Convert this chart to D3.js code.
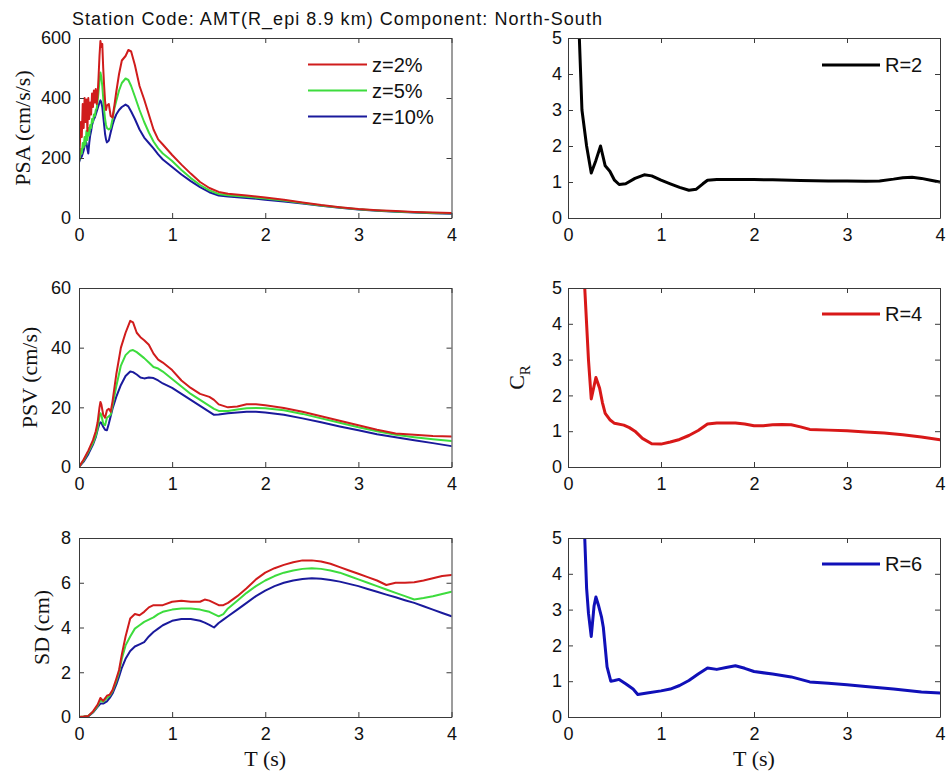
<!DOCTYPE html>
<html>
<head>
<meta charset="utf-8">
<script src="https://cdn.jsdelivr.net/npm/d3@7"></script>
<style>
  html, body { margin: 0; padding: 0; background: #fff; }
  svg { display: block; }
</style>
</head>
<body>
<svg id="chart" width="946" height="776"></svg>
<script>
// ---------------- DATA ----------------
const titleText = "Station Code: AMT(R_epi 8.9 km) Component: North-South";
const xTicks = [0, 1, 2, 3, 4];
const psaTicks = [0, 200, 400, 600];
const psvTicks = [0, 20, 40, 60];
const sdTicks = [0, 2, 4, 6, 8];
const crTicks = [0, 1, 2, 3, 4, 5];
const dampingLabels = ["z=2%", "z=5%", "z=10%"];
const rLabels = ["R=2", "R=4", "R=6"];

// PSA (cm/s/s)
const psaT = [0,0.01,0.02,0.03,0.04,0.05,0.06,0.07,0.08,0.09,0.10,0.11,0.12,0.13,0.14,0.15,0.16,0.17,0.18,0.19,0.20,0.21,0.22,0.23,0.24,0.25,0.26,0.27,0.28,0.29,0.30,
  0.32,0.34,0.36,0.38,0.40,0.43,0.46,0.50,0.53,0.56,0.60,0.65,0.70,0.75,0.80,0.85,0.90,1.0,1.1,1.2,1.3,1.4,1.5,1.6,1.8,2.0,2.2,2.4,2.6,2.8,3.0,3.2,3.4,3.6,3.8,4.0];
const psaZ2 = [190,250,320,270,380,300,400,320,395,290,400,330,385,345,415,370,425,385,430,380,410,470,540,590,570,580,500,440,390,360,375,
  380,340,335,375,420,480,525,540,560,555,510,440,395,345,295,262,245,210,178,148,120,100,87,81,75,68,61,52,43,36,30,26,23,20,18,17];
const psaZ5 = [190,200,230,215,250,235,270,245,290,260,300,275,310,300,330,320,345,340,360,365,390,420,455,485,470,440,400,360,330,310,300,
  295,300,330,365,390,425,450,465,460,440,405,360,320,285,255,232,215,190,160,133,110,92,80,76,71,65,58,50,42,35,29,25,22,19,17,16];
const psaZ10 = [185,195,200,205,215,225,240,255,250,230,215,250,275,290,310,320,330,335,345,355,365,375,385,392,385,370,340,310,280,262,252,
  258,285,310,330,345,360,370,378,372,355,330,295,268,250,232,212,195,170,145,123,103,86,75,72,67,61,55,48,41,34,28,24,21,18,16,14];

// PSV (cm/s)
const psvT = [0,0.05,0.1,0.15,0.18,0.2,0.22,0.23,0.24,0.26,0.28,0.3,0.32,0.34,0.36,0.4,0.45,0.5,0.55,0.58,0.62,0.66,0.7,0.75,0.8,0.85,0.9,1.0,1.1,1.2,1.3,1.4,1.45,1.5,1.6,1.7,1.8,1.9,2.0,2.2,2.4,2.6,2.8,3.0,3.2,3.4,3.6,3.8,4.0];
const psvZ2 = [0,2.5,5.5,9,12,15,20,21.8,21,17.5,16.5,19,19.5,18.5,22,31,40,45,49,48.5,45,43.5,42.5,41,38,36,35,32.5,29,26.5,24.5,23.5,22.5,21,20,20.3,21,21,20.7,19.8,18.5,17,15.5,14,12.5,11.2,10.8,10.4,10.2];
const psvZ5 = [0,2.2,5,8,10.5,13,17,18,17.5,14.5,14,16.5,17,17.5,20.5,27,34,37.5,39,39.2,38.5,37.5,36.5,35,33.5,33,32,29.5,27,24.5,22.5,20.5,19.5,18.8,18.8,19.3,19.7,19.8,19.7,19,17.8,16.3,14.8,13.3,12,10.8,10,9.3,8.7];
const psvZ10 = [0,1.8,4.3,7.5,10,12.5,14.5,15,14.8,13.5,12.5,12.3,14.5,17,19.5,23.5,27.5,30.5,32,31.8,31,30,29.7,30,29.8,29,28,26.5,24.5,22.5,20.5,18.5,17.5,17.6,18,18.3,18.5,18.5,18.3,17.5,16.3,15,13.6,12.3,11,10,9,8,7];

// SD (cm)
const sdT = [0,0.05,0.1,0.15,0.2,0.23,0.26,0.3,0.33,0.36,0.4,0.43,0.46,0.5,0.55,0.6,0.65,0.7,0.75,0.8,0.85,0.9,1.0,1.1,1.2,1.3,1.35,1.4,1.45,1.5,1.55,1.6,1.7,1.8,1.9,2.0,2.1,2.2,2.3,2.4,2.5,2.6,2.7,2.8,2.9,3.0,3.1,3.2,3.3,3.4,3.5,3.6,3.7,3.8,3.9,4.0];
const sdZ2 = [0,0.02,0.05,0.25,0.55,0.85,0.72,0.95,1.0,1.2,1.7,2.1,2.8,3.6,4.4,4.6,4.55,4.7,4.9,5.0,5.0,5.0,5.15,5.2,5.15,5.15,5.25,5.2,5.1,5.0,5.0,5.1,5.4,5.75,6.15,6.45,6.65,6.8,6.92,7.0,7.0,6.95,6.85,6.7,6.55,6.4,6.25,6.1,5.9,6.0,6.0,6.02,6.1,6.2,6.3,6.35];
const sdZ5 = [0,0.02,0.05,0.22,0.5,0.75,0.68,0.85,0.95,1.15,1.6,2.0,2.6,3.2,3.6,3.95,4.1,4.25,4.35,4.45,4.6,4.7,4.8,4.85,4.85,4.8,4.75,4.7,4.6,4.5,4.6,4.85,5.2,5.55,5.85,6.1,6.3,6.45,6.55,6.62,6.65,6.62,6.55,6.45,6.3,6.15,6.0,5.85,5.7,5.55,5.4,5.25,5.32,5.4,5.5,5.6];
const sdZ10 = [0,0.01,0.03,0.2,0.45,0.6,0.6,0.7,0.85,1.05,1.45,1.8,2.2,2.6,2.95,3.15,3.25,3.35,3.6,3.8,3.95,4.1,4.3,4.38,4.38,4.3,4.22,4.12,4.0,4.2,4.35,4.5,4.8,5.1,5.4,5.65,5.85,6.0,6.1,6.17,6.2,6.18,6.12,6.05,5.95,5.85,5.72,5.6,5.47,5.35,5.22,5.1,4.95,4.8,4.65,4.5];

// C_R
const r2T = [0.1,0.122,0.15,0.2,0.25,0.3,0.35,0.4,0.45,0.5,0.55,0.62,0.72,0.82,0.9,1.0,1.1,1.2,1.3,1.38,1.45,1.5,1.6,1.8,2.0,2.2,2.5,2.8,3.0,3.2,3.35,3.5,3.6,3.7,3.8,3.9,4.0];
const r2V = [6.5,5,3.0,2.0,1.25,1.6,2.0,1.45,1.3,1.05,0.93,0.95,1.1,1.2,1.17,1.05,0.95,0.85,0.77,0.8,0.95,1.05,1.07,1.07,1.07,1.06,1.04,1.03,1.03,1.02,1.03,1.08,1.12,1.13,1.1,1.05,1.0];
const r4T = [0.17,0.18,0.2,0.22,0.25,0.3,0.34,0.37,0.4,0.45,0.5,0.6,0.66,0.72,0.8,0.9,1.0,1.1,1.2,1.3,1.4,1.5,1.6,1.7,1.8,1.9,2.0,2.1,2.2,2.3,2.4,2.5,2.6,2.8,3.0,3.2,3.4,3.6,3.8,4.0];
const r4V = [5.5,5.0,4.0,3.0,1.9,2.5,2.2,1.8,1.5,1.32,1.22,1.17,1.1,1.0,0.8,0.65,0.64,0.7,0.77,0.88,1.02,1.2,1.23,1.23,1.23,1.2,1.15,1.15,1.18,1.19,1.18,1.12,1.05,1.03,1.01,0.98,0.95,0.9,0.84,0.76];
const r6T = [0.17,0.18,0.2,0.22,0.25,0.28,0.3,0.33,0.36,0.38,0.42,0.46,0.5,0.55,0.62,0.7,0.75,0.85,1.0,1.1,1.2,1.3,1.4,1.5,1.6,1.7,1.8,1.9,2.0,2.2,2.4,2.6,2.8,3.0,3.2,3.5,3.8,4.0];
const r6V = [5.5,5.0,3.6,2.9,2.25,3.1,3.35,3.1,2.8,2.5,1.4,1.0,1.02,1.05,0.93,0.78,0.63,0.67,0.73,0.78,0.88,1.02,1.2,1.37,1.33,1.38,1.43,1.36,1.27,1.2,1.12,0.98,0.94,0.9,0.85,0.78,0.7,0.67];

// ---------------- STYLE / LAYOUT ----------------
const COL = { red: "#d01c1c", green: "#3ddc3d", blue: "#1a1a9c", black: "#000000",
              r4: "#d81818", r6: "#1010b8" };
const SANS = "'Liberation Sans', Arial, Helvetica, sans-serif";
const SERIF = "'Liberation Serif', 'Times New Roman', serif";
const leftX = [79, 451.5], rightX = [568, 940];
const rows = [[38, 218], [288, 467], [538, 717]];

const svg = d3.select("#chart");

svg.append("text").attr("x", 72).attr("y", 25)
  .attr("font-family", SANS).attr("font-size", 18).attr("fill", "#111")
  .attr("textLength", 530).attr("lengthAdjust", "spacing")
  .text(titleText);

function panel(opts) {
  const { xr, yr, yMax, yTicks, series, lw, id, labelPos } = opts;
  const x = d3.scaleLinear().domain([0, 4]).range(xr);
  const y = d3.scaleLinear().domain([0, yMax]).range([yr[1], yr[0]]);
  const g = svg.append("g");

  g.append("clipPath").attr("id", id).append("rect")
    .attr("x", xr[0]).attr("y", yr[0]).attr("width", xr[1] - xr[0]).attr("height", yr[1] - yr[0]);

  const line = d3.line().x(d => x(d[0])).y(d => y(d[1]));
  const lg = g.append("g").attr("clip-path", `url(#${id})`);
  series.forEach(s => {
    lg.append("path").datum(d3.zip(s.t, s.v))
      .attr("d", line).attr("fill", "none").attr("stroke", s.color)
      .attr("stroke-width", lw).attr("stroke-linejoin", "round").attr("stroke-linecap", "round");
  });

  const axColor = "#3a3a3a";
  const fmt = d3.format("d");
  const ax = [
    g.append("g").attr("transform", `translate(0,${yr[1]})`)
      .call(d3.axisBottom(x).tickValues(xTicks).tickFormat(fmt).tickSizeInner(-5).tickSizeOuter(0).tickPadding(9)),
    g.append("g").attr("transform", `translate(0,${yr[0]})`)
      .call(d3.axisTop(x).tickValues(xTicks).tickFormat("").tickSizeInner(-5).tickSizeOuter(0)),
    g.append("g").attr("transform", `translate(${xr[0]},0)`)
      .call(d3.axisLeft(y).tickValues(yTicks).tickFormat(fmt).tickSizeInner(-5).tickSizeOuter(0).tickPadding(labelPos)),
    g.append("g").attr("transform", `translate(${xr[1]},0)`)
      .call(d3.axisRight(y).tickValues(yTicks).tickFormat("").tickSizeInner(-5).tickSizeOuter(0))
  ];
  ax.forEach(a => {
    a.selectAll("path.domain").attr("stroke", axColor).attr("stroke-width", 1);
    a.selectAll(".tick line").attr("stroke", axColor).attr("stroke-width", 1);
    a.selectAll(".tick text").attr("font-family", SANS).attr("font-size", 18).attr("fill", "#111");
  });
  ax[0].selectAll(".tick text").attr("dy", null).attr("y", 23);
  return { x, y, g };
}

function legend(p, entries, x0, x1, ys, lw, fs) {
  entries.forEach((e, i) => {
    p.g.append("line").attr("x1", x0).attr("x2", x1).attr("y1", ys[i]).attr("y2", ys[i])
      .attr("stroke", e.color).attr("stroke-width", lw);
    p.g.append("text").attr("x", x1 + 5).attr("y", ys[i]).attr("dy", "0.36em")
      .attr("font-family", SANS).attr("font-size", fs).attr("fill", "#111").text(e.label);
  });
}

function ylabel(xb, yc, txt) {
  svg.append("text").attr("transform", `translate(${xb},${yc}) rotate(-90)`)
    .attr("text-anchor", "middle").attr("font-family", SERIF).attr("font-size", 22)
    .attr("fill", "#111").text(txt);
}

// Left column
const zColors = [COL.red, COL.green, COL.blue];
const p1 = panel({ xr: leftX, yr: rows[0], yMax: 600, yTicks: psaTicks, lw: 2, id: "c1", labelPos: 8,
  series: [{ t: psaT, v: psaZ2, color: COL.red }, { t: psaT, v: psaZ5, color: COL.green }, { t: psaT, v: psaZ10, color: COL.blue }].reverse() });
legend(p1, dampingLabels.map((l, i) => ({ label: l, color: zColors[i] })), 308, 367, [64.5, 90.5, 116.5], 2, 20);

const p2 = panel({ xr: leftX, yr: rows[1], yMax: 60, yTicks: psvTicks, lw: 2, id: "c2", labelPos: 8,
  series: [{ t: psvT, v: psvZ2, color: COL.red }, { t: psvT, v: psvZ5, color: COL.green }, { t: psvT, v: psvZ10, color: COL.blue }].reverse() });

const p3 = panel({ xr: leftX, yr: rows[2], yMax: 8, yTicks: sdTicks, lw: 2, id: "c3", labelPos: 8,
  series: [{ t: sdT, v: sdZ2, color: COL.red }, { t: sdT, v: sdZ5, color: COL.green }, { t: sdT, v: sdZ10, color: COL.blue }].reverse() });

// Right column
const p4 = panel({ xr: rightX, yr: rows[0], yMax: 5, yTicks: crTicks, lw: 3, id: "c4", labelPos: 6,
  series: [{ t: r2T, v: r2V, color: COL.black }] });
legend(p4, [{ label: rLabels[0], color: COL.black }], 822, 880, [rows[0][0] + 27], 3, 20);

const p5 = panel({ xr: rightX, yr: rows[1], yMax: 5, yTicks: crTicks, lw: 3, id: "c5", labelPos: 6,
  series: [{ t: r4T, v: r4V, color: COL.r4 }] });
legend(p5, [{ label: rLabels[1], color: COL.r4 }], 822, 880, [rows[1][0] + 26], 3, 20);

const p6 = panel({ xr: rightX, yr: rows[2], yMax: 5, yTicks: crTicks, lw: 3, id: "c6", labelPos: 6,
  series: [{ t: r6T, v: r6V, color: COL.r6 }] });
legend(p6, [{ label: rLabels[2], color: COL.r6 }], 822, 880, [rows[2][0] + 26], 3, 20);

// Axis labels
ylabel(30, (rows[0][0] + rows[0][1]) / 2, "PSA (cm/s/s)");
ylabel(37, (rows[1][0] + rows[1][1]) / 2, "PSV (cm/s)");
ylabel(49, (rows[2][0] + rows[2][1]) / 2, "SD (cm)");

const cr = svg.append("text")
  .attr("transform", `translate(524,${(rows[1][0] + rows[1][1]) / 2}) rotate(-90)`)
  .attr("text-anchor", "middle").attr("font-family", SERIF).attr("font-size", 22).attr("fill", "#111");
cr.append("tspan").text("C");
cr.append("tspan").attr("font-size", 15).attr("dy", 6).text("R");

svg.append("text").attr("x", (leftX[0] + leftX[1]) / 2).attr("y", 766).attr("text-anchor", "middle")
  .attr("font-family", SERIF).attr("font-size", 22).attr("fill", "#111").text("T (s)");
svg.append("text").attr("x", (rightX[0] + rightX[1]) / 2).attr("y", 766).attr("text-anchor", "middle")
  .attr("font-family", SERIF).attr("font-size", 22).attr("fill", "#111").text("T (s)");
</script>
</body>
</html>
